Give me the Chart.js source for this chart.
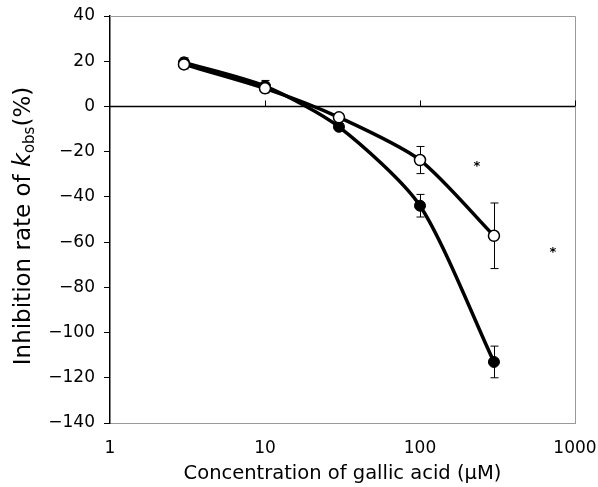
<!DOCTYPE html>
<html>
<head>
<meta charset="utf-8">
<script src="https://cdn.jsdelivr.net/npm/chart.js@4/dist/chart.umd.min.js"></script>
<style>
  body { margin: 0; background: #fff; }
  #wrap { width: 598px; height: 487px; }
</style>
</head>
<body>
<div id="wrap"><canvas id="chart" width="598" height="487"></canvas></div>
<script>
// gallic acid concentration (uM)
const conc = [3, 10, 30, 100, 300];
// open circles
const openVals = [18.6, 8.0, -4.8, -23.7, -57.2];
const openErr = [2, 2, 1.5, 6, 14.5];
// filled circles
const filledVals = [19.5, 9.0, -9.0, -43.9, -113];
const filledErr = [2, 2.5, 1.5, 5, 7];
// significance marks
const starX = [233, 720];
const starY = [-25.5, -63.5];
const xTicks = [1, 10, 100, 1000];
const yTicks = [40, 20, 0, -20, -40, -60, -80, -100, -120, -140];

const FONT = '"DejaVu Sans", "Liberation Sans", sans-serif';

function pts(xs, ys) {
  return xs.map((x, i) => ({ x: x, y: ys[i] }));
}

// frame, zero line, error bars, stars and the y title
const extras = {
  id: 'extras',
  beforeDatasetsDraw(c) {
    const ctx = c.ctx, xs = c.scales.x, ys = c.scales.y, a = c.chartArea;
    ctx.save();
    // frame top / right in grey
    ctx.strokeStyle = '#9a9a9a';
    ctx.lineWidth = 1;
    ctx.beginPath();
    ctx.moveTo(a.left, a.top + 0.5); ctx.lineTo(a.right + 0.5, a.top + 0.5);
    ctx.lineTo(a.right + 0.5, a.bottom + 0.5);
    ctx.stroke();
    // zero line
    const y0 = ys.getPixelForValue(0);
    ctx.strokeStyle = '#000';
    ctx.lineWidth = 1.5;
    ctx.beginPath();
    ctx.moveTo(a.left, y0); ctx.lineTo(a.right, y0);
    ctx.stroke();
    ctx.lineWidth = 1;
    xTicks.slice(1).forEach(v => {
      const px = Math.round(xs.getPixelForValue(v)) + 0.5;
      ctx.beginPath();
      ctx.moveTo(px, y0); ctx.lineTo(px, y0 - 6);
      ctx.stroke();
    });
    // error bars
    const bars = (vals, errs) => {
      conc.forEach((x, i) => {
        const px = Math.round(xs.getPixelForValue(x)) + 0.5;
        const top = ys.getPixelForValue(vals[i] + errs[i]);
        const bot = ys.getPixelForValue(vals[i] - errs[i]);
        ctx.beginPath();
        ctx.moveTo(px, top); ctx.lineTo(px, bot);
        ctx.moveTo(px - 4, top); ctx.lineTo(px + 4, top);
        ctx.moveTo(px - 4, bot); ctx.lineTo(px + 4, bot);
        ctx.stroke();
      });
    };
    bars(filledVals, filledErr);
    bars(openVals, openErr);
    // stars
    ctx.fillStyle = '#000';
    ctx.font = 'bold 13px ' + FONT;
    ctx.textAlign = 'center';
    ctx.textBaseline = 'middle';
    starX.forEach((x, i) => {
      ctx.fillText('*', xs.getPixelForValue(x), ys.getPixelForValue(starY[i]) + 3);
    });
    ctx.restore();
  },
  afterDraw(c) {
    // y title with italic k and subscript obs
    const ctx = c.ctx;
    ctx.save();
    ctx.translate(24, 226);
    ctx.rotate(-Math.PI / 2);
    ctx.fillStyle = '#000';
    ctx.textBaseline = 'middle';
    ctx.textAlign = 'left';
    const parts = [
      { t: 'Inhibition rate of ', f: '23px ' + FONT, dy: 0 },
      { t: 'k', f: 'italic 24px ' + FONT, dy: 0 },
      { t: 'obs', f: '15px ' + FONT, dy: 6 },
      { t: '(%)', f: '23px ' + FONT, dy: 0 }
    ];
    let w = 0;
    parts.forEach(p => { ctx.font = p.f; w += ctx.measureText(p.t).width; });
    let x = -w / 2;
    parts.forEach(p => {
      ctx.font = p.f;
      ctx.fillText(p.t, x, p.dy);
      x += ctx.measureText(p.t).width;
    });
    ctx.restore();
  }
};

new Chart(document.getElementById('chart'), {
  type: 'scatter',
  data: {
    datasets: [
      {
        label: 'open',
        data: pts(conc, openVals),
        showLine: true,
        borderColor: '#000',
        borderWidth: 3.5,
        tension: 0.25,
        pointRadius: 5.5,
        pointBackgroundColor: '#fff',
        pointBorderColor: '#000',
        pointBorderWidth: 1.5
      },
      {
        label: 'filled',
        data: pts(conc, filledVals),
        showLine: true,
        borderColor: '#000',
        borderWidth: 3.5,
        tension: 0.25,
        pointRadius: 5.5,
        pointBackgroundColor: '#000',
        pointBorderColor: '#000',
        pointBorderWidth: 1
      }
    ]
  },
  options: {
    responsive: false,
    animation: false,
    layout: { padding: 0 },
    plugins: { legend: { display: false }, tooltip: { enabled: false } },
    scales: {
      x: {
        type: 'logarithmic',
        min: 1, max: 1000,
        afterBuildTicks: s => { s.ticks = xTicks.map(v => ({ value: v })); },
        grid: { display: false, drawTicks: false },
        border: { color: '#9a9a9a', width: 1 },
        ticks: {
          color: '#000', padding: 15, maxRotation: 0,
          font: { family: FONT, size: 17 },
          callback: v => String(v)
        },
        title: {
          display: true, text: 'Concentration of gallic acid (\u03bcM)', color: '#000',
          font: { family: FONT, size: 19.5 }, padding: { top: 0, bottom: 1 }
        },
        afterFit: s => { s.height = 64; s.paddingLeft = 0; s.paddingRight = 23; }
      },
      y: {
        min: -140, max: 40,
        afterBuildTicks: s => { s.ticks = yTicks.map(v => ({ value: v })); },
        grid: { drawOnChartArea: false, tickLength: 6, tickColor: '#000' },
        border: { color: '#000', width: 1.5 },
        ticks: {
          color: '#000', padding: 9,
          font: { family: FONT, size: 17 },
          callback: v => (v < 0 ? '\u2212' + Math.abs(v) : String(v))
        },
        afterFit: s => { s.width = 110; s.paddingTop = 16; s.paddingBottom = 0; }
      }
    }
  },
  plugins: [extras]
});
</script>
</body>
</html>
